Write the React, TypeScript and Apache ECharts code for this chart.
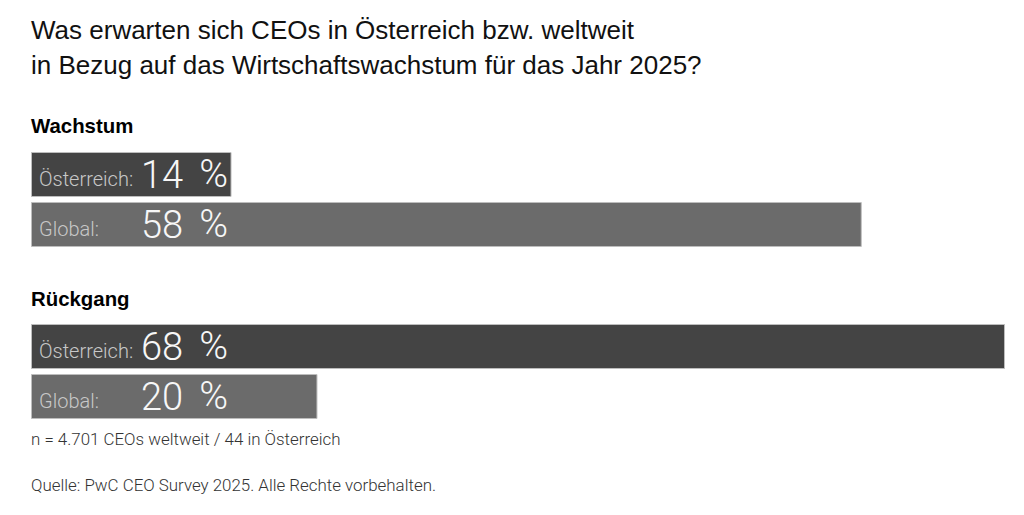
import React, { useEffect, useRef } from "react";
import * as echarts from "echarts";

const titleText = "Was erwarten sich CEOs in Österreich bzw. weltweit\nin Bezug auf das Wirtschaftswachstum für das Jahr 2025?";
const groupLabels = ["Wachstum", "Rückgang"];
const categories = ["Österreich", "Global"];
const wachstum = [14, 58];
const rueckgang = [68, 20];
const footnote = "n = 4.701 CEOs weltweit / 44 in Österreich";
const source = "Quelle: PwC CEO Survey 2025. Alle Rechte vorbehalten.";

const barColors = ["#444444", "#6b6b6b"];
const LIGHT = "Roboto";

export default function App() {
  const ref = useRef<HTMLDivElement>(null);
  useEffect(() => {
    if (!ref.current) return;
    const chart = echarts.init(ref.current, null, { renderer: "svg" });
    const makeData = (vals: number[]) =>
      vals.map((v, i) => ({
        value: v,
        itemStyle: { color: barColors[i], borderColor: "#bdbdbd", borderWidth: 1 },
      }));
    const label = {
      show: true,
      position: "insideLeft",
      distance: 8,
      formatter: (p: any) => `{a|${p.name}:}{b|${p.value}}{c|%}`,
      rich: {
        a: {
          fontFamily: LIGHT,
          fontWeight: 300,
          fontSize: 20,
          lineHeight: 20,
          color: "#c8c8c8",
          width: 102,
          verticalAlign: "bottom",
          padding: [0, 0, 5, 0],
        },
        b: {
          fontFamily: LIGHT,
          fontWeight: 300,
          fontSize: 38,
          lineHeight: 38,
          color: "#f7f7f7",
          verticalAlign: "bottom",
        },
        c: {
          fontFamily: LIGHT,
          fontWeight: 300,
          fontSize: 39,
          lineHeight: 38,
          color: "#f7f7f7",
          verticalAlign: "bottom",
          padding: [0, 0, 0, 16],
        },
      },
    };
    chart.setOption({
      animation: false,
      backgroundColor: "#ffffff",
      title: [
        {
          text: titleText,
          left: 31,
          top: 12,
          padding: 0,
          textStyle: { fontFamily: "Liberation Sans", fontSize: 26, lineHeight: 35, fontWeight: "normal", color: "#111111" },
        },
        {
          text: groupLabels[0],
          left: 31,
          top: 116,
          padding: 0,
          textStyle: { fontFamily: "Liberation Sans", fontSize: 20.4, lineHeight: 20, fontWeight: "bold", color: "#000000" },
        },
        {
          text: groupLabels[1],
          left: 31,
          top: 289,
          padding: 0,
          textStyle: { fontFamily: "Liberation Sans", fontSize: 20.4, lineHeight: 20, fontWeight: "bold", color: "#000000" },
        },
        {
          text: footnote,
          left: 31,
          top: 430,
          padding: 0,
          textStyle: { fontFamily: LIGHT, fontWeight: 300, fontSize: 16.9, lineHeight: 17, color: "#333333" },
        },
        {
          text: source,
          left: 31,
          top: 476,
          padding: 0,
          textStyle: { fontFamily: LIGHT, fontWeight: 300, fontSize: 16.9, lineHeight: 17, color: "#333333" },
        },
      ],
      grid: [
        { left: 31, width: 974, top: 149.5, height: 100 },
        { left: 31, width: 974, top: 321.5, height: 100 },
      ],
      xAxis: [
        { type: "value", gridIndex: 0, min: 0, max: 68, show: false },
        { type: "value", gridIndex: 1, min: 0, max: 68, show: false },
      ],
      yAxis: [
        { type: "category", gridIndex: 0, data: categories, inverse: true, show: false },
        { type: "category", gridIndex: 1, data: categories, inverse: true, show: false },
      ],
      series: [
        {
          type: "bar",
          xAxisIndex: 0,
          yAxisIndex: 0,
          barWidth: 45,
          data: makeData(wachstum),
          label,
        },
        {
          type: "bar",
          xAxisIndex: 1,
          yAxisIndex: 1,
          barWidth: 45,
          data: makeData(rueckgang),
          label,
        },
      ],
    });
    return () => chart.dispose();
  }, []);
  return (
    <div
      ref={ref}
      style={{ position: "absolute", left: 0, top: 0, width: 1024, height: 515 }}
    />
  );
}
